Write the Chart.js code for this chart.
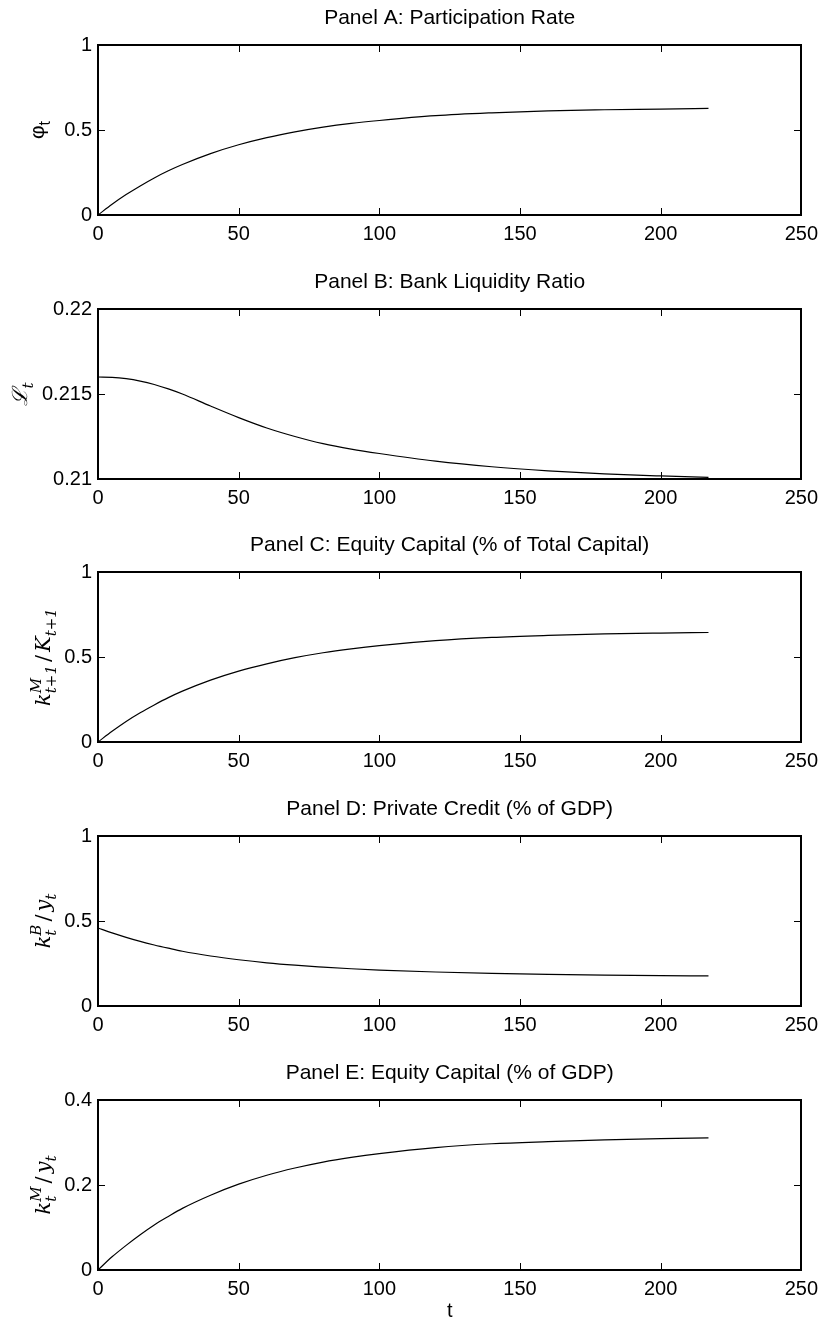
<!DOCTYPE html>
<html>
<head>
<meta charset="utf-8">
<script src="https://cdn.jsdelivr.net/npm/chart.js@4"></script>
<style>
  body { margin: 0; background: #fff; }
  .wrap { position: relative; width: 825px; height: 1325px; }
  canvas { position: absolute; left: 0; }
</style>
</head>
<body>
<div class="wrap">
  <canvas id="pA" width="825" height="264" style="top:0px"></canvas>
  <canvas id="pB" width="825" height="264" style="top:264px"></canvas>
  <canvas id="pC" width="825" height="264" style="top:527px"></canvas>
  <canvas id="pD" width="825" height="264" style="top:791px"></canvas>
  <canvas id="pE" width="825" height="270" style="top:1055px"></canvas>
</div>
<script>
// thời điểm t (chung cho 5 panel)
const tPoints = [0, 5, 10, 15, 20, 25, 30, 40, 50, 60, 70, 80, 90, 100, 120, 140, 160, 180, 200, 217];

// Panel A: participation rate
const participationRate = [0, 0.063, 0.120, 0.171, 0.218, 0.260, 0.297, 0.361, 0.413, 0.455, 0.489, 0.517, 0.539, 0.556, 0.584, 0.601, 0.613, 0.619, 0.623, 0.627];
// Panel B: bank liquidity ratio
const liquidityRatio = [0.2160, 0.21598, 0.21590, 0.21576, 0.21556, 0.21530, 0.21500, 0.21429, 0.21361, 0.21300, 0.21250, 0.21208, 0.21176, 0.21150, 0.21105, 0.21072, 0.21048, 0.21030, 0.21018, 0.21010];
// Panel C: equity capital (% of total capital)
const equityShare = [0, 0.063, 0.121, 0.172, 0.218, 0.261, 0.299, 0.364, 0.417, 0.460, 0.496, 0.525, 0.548, 0.567, 0.596, 0.615, 0.627, 0.636, 0.641, 0.644];
// Panel D: private credit (% of GDP)
const privateCredit = [0.459, 0.430, 0.404, 0.380, 0.359, 0.340, 0.322, 0.294, 0.272, 0.254, 0.240, 0.229, 0.219, 0.211, 0.200, 0.192, 0.186, 0.182, 0.179, 0.177];
// Panel E: equity capital (% of GDP)
const equityGdp = [0, 0.031, 0.058, 0.083, 0.106, 0.126, 0.145, 0.176, 0.202, 0.223, 0.240, 0.254, 0.265, 0.274, 0.288, 0.297, 0.302, 0.306, 0.309, 0.311];

// nhãn trục
const xTicks = [0, 50, 100, 150, 200, 250];
const yTicksA = [0, 0.5, 1];
const yTicksB = [0.21, 0.215, 0.22];
const yTicksC = [0, 0.5, 1];
const yTicksD = [0, 0.5, 1];
const yTicksE = [0, 0.2, 0.4];

const SANS = "'Liberation Sans', Arial, Helvetica, sans-serif";
const SERIF = "'DejaVu Serif', 'Liberation Serif', serif";

// khung + vạch chia hướng vào trong
const boxPlugin = {
    id: 'box',
    afterDraw(chart) {
        const ctx = chart.ctx, a = chart.chartArea;
        const xs = chart.scales.x, ys = chart.scales.y;
        const L = Math.round(a.left), R = Math.round(a.right), T = Math.round(a.top), B = Math.round(a.bottom);
        ctx.save();
        ctx.strokeStyle = '#000';
        ctx.lineWidth = 1;
        ctx.beginPath();
        xs.ticks.forEach(tk => {
            const px = Math.round(xs.getPixelForValue(tk.value)) + 0.5;
            ctx.moveTo(px, B); ctx.lineTo(px, B - 7);
            ctx.moveTo(px, T); ctx.lineTo(px, T + 7);
        });
        ys.ticks.forEach(tk => {
            const py = Math.round(ys.getPixelForValue(tk.value)) + 0.5;
            ctx.moveTo(L, py); ctx.lineTo(L + 7, py);
            ctx.moveTo(R, py); ctx.lineTo(R - 7, py);
        });
        ctx.stroke();
        ctx.lineWidth = 2;
        ctx.strokeRect(L, T, R - L, B - T);
        ctx.restore();
    }
};

// nhãn trục y có chỉ số trên/dưới
const yLabelPlugin = {
    id: 'yLabel',
    afterDraw(chart, args, opts) {
        if (!opts.parts) return;
        const ctx = chart.ctx, a = chart.chartArea;
        const mainFont = (opts.italic ? 'italic ' : '') + opts.size + 'px ' + opts.family;
        const uprFont = opts.size + 'px ' + opts.family;
        const smallFont = (opts.italic ? 'italic ' : '') + opts.small + 'px ' + opts.family;
        ctx.save();
        // đo chiều dài
        let w = 0;
        opts.parts.forEach(p => {
            if (p.t) { ctx.font = p.up ? uprFont : mainFont; w += ctx.measureText(p.t).width + (p.gap || 0) * 2; }
            else {
                ctx.font = smallFont;
                w += Math.max(p.sup ? ctx.measureText(p.sup).width : 0, p.sub ? ctx.measureText(p.sub).width : 0);
            }
        });
        ctx.translate(opts.x, (a.top + a.bottom) / 2);
        ctx.rotate(-Math.PI / 2);
        ctx.fillStyle = '#000';
        ctx.textBaseline = 'alphabetic';
        let x = -w / 2;
        const base = opts.base;
        opts.parts.forEach(p => {
            if (p.t) {
                ctx.font = p.up ? uprFont : mainFont;
                x += (p.gap || 0);
                ctx.fillText(p.t, x, base);
                x += ctx.measureText(p.t).width + (p.gap || 0);
            } else {
                ctx.font = smallFont;
                let ww = 0;
                if (p.sup) { ctx.fillText(p.sup, x, base - opts.supShift); ww = ctx.measureText(p.sup).width; }
                if (p.sub) { ctx.fillText(p.sub, x, base + opts.subShift); ww = Math.max(ww, ctx.measureText(p.sub).width); }
                x += ww;
            }
        });
        ctx.restore();
    }
};

function makePanel(id, title, values, yTicks, yLabel, lastOne) {
    const canvas = document.getElementById(id);
    const H = canvas.height;
    return new Chart(canvas, {
        type: 'line',
        data: {
            datasets: [{
                data: tPoints.map((t, i) => ({ x: t, y: values[i] })),
                borderColor: '#000',
                borderWidth: 1.2,
                pointRadius: 0,
                fill: false,
                cubicInterpolationMode: 'monotone'
            }]
        },
        plugins: [boxPlugin, yLabelPlugin],
        options: {
            responsive: false,
            animation: false,
            devicePixelRatio: 1,
            layout: { padding: { left: 0, right: 22, top: 0, bottom: 0 } },
            plugins: {
                legend: { display: false },
                tooltip: { enabled: false },
                title: {
                    display: true,
                    text: title,
                    fullSize: false,
                    color: '#000',
                    font: { family: SANS, size: 21, weight: 'normal', lineHeight: 1.2 },
                    padding: { top: 6, bottom: 13.8 }
                },
                yLabel: yLabel
            },
            scales: {
                x: {
                    type: 'linear',
                    min: 0, max: 250,
                    afterBuildTicks: s => { s.ticks = xTicks.map(v => ({ value: v })); },
                    afterFit: s => { s.height = H - 215; },
                    grid: { display: false, drawTicks: false },
                    border: { display: false },
                    ticks: { color: '#000', padding: 7, maxRotation: 0, font: { family: SANS, size: 20 } },
                    title: {
                        display: !!lastOne,
                        text: 't',
                        color: '#000',
                        font: { family: SANS, size: 20 },
                        padding: { top: 0, bottom: 2 }
                    }
                },
                y: {
                    type: 'linear',
                    min: yTicks[0], max: yTicks[yTicks.length - 1],
                    afterBuildTicks: s => { s.ticks = yTicks.map(v => ({ value: v })); },
                    afterFit: s => { s.width = 98; },
                    grid: { display: false, drawTicks: false },
                    border: { display: false },
                    ticks: {
                        color: '#000', padding: 6,
                        font: { family: SANS, size: 20 },
                        callback: v => String(v)
                    }
                }
            }
        }
    });
}

const serifLabel = { family: SERIF, italic: true, size: 21, small: 15, supShift: 9, subShift: 6, base: 7 };

document.addEventListener('DOMContentLoaded', function () {
    makePanel('pA', 'Panel A: Participation Rate', participationRate, yTicksA,
        { parts: [{ t: 'φ', up: true }, { sub: 't' }], x: 38, family: SANS, italic: false, size: 21, small: 16, supShift: 8, subShift: 6, base: 6 });
    makePanel('pB', 'Panel B: Bank Liquidity Ratio', liquidityRatio, yTicksB,
        Object.assign({}, serifLabel, { parts: [{ t: 'ℒ' }, { sub: 't' }], x: 20 }));
    makePanel('pC', 'Panel C: Equity Capital (% of Total Capital)', equityShare, yTicksC,
        Object.assign({}, serifLabel, { parts: [{ t: 'k' }, { sup: 'M', sub: 't+1' }, { t: '/', up: true, gap: 3 }, { t: 'K' }, { sub: 't+1' }], x: 43 }));
    makePanel('pD', 'Panel D: Private Credit (% of GDP)', privateCredit, yTicksD,
        Object.assign({}, serifLabel, { parts: [{ t: 'k' }, { sup: 'B', sub: 't' }, { t: '/', up: true, gap: 3 }, { t: 'y' }, { sub: 't' }], x: 43 }));
    makePanel('pE', 'Panel E: Equity Capital (% of GDP)', equityGdp, yTicksE,
        Object.assign({}, serifLabel, { parts: [{ t: 'k' }, { sup: 'M', sub: 't' }, { t: '/', up: true, gap: 3 }, { t: 'y' }, { sub: 't' }], x: 43 }), true);
});
</script>
</body>
</html>
